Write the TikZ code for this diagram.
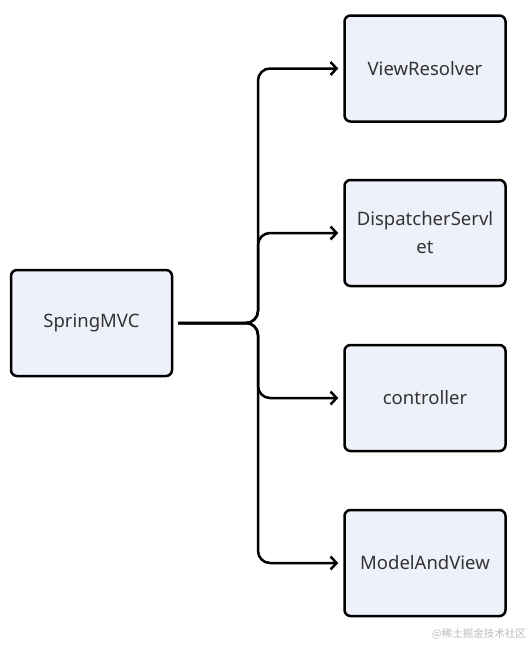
\documentclass[tikz,border=0pt]{standalone}
\usepackage{fontspec}
\setmainfont{Noto Sans}
\newfontfamily\cjk{Noto Sans CJK SC}
\usetikzlibrary{arrows.meta}
\definecolor{boxfill}{HTML}{EEF1FA}
\definecolor{txt}{HTML}{333333}
\definecolor{wm}{HTML}{BBBBBB}
\begin{document}
\begin{tikzpicture}[x=1pt,y=-1pt,
  box/.style={draw=black,line width=2.5pt,rounded corners=6pt,fill=boxfill,
    minimum width=161pt,minimum height=106pt,text width=155pt,align=center,
    font=\fontsize{18.5}{28}\selectfont,text=txt,inner sep=0pt},
  conn/.style={line width=2.5pt,rounded corners=12pt,
    -{Straight Barb[length=6pt,width=13pt,line width=2.5pt]},shorten >=5pt}]
\useasboundingbox (0,0) rectangle (532,646);
\node[box] (sm) at (91.5,323) {SpringMVC};
\node[box] (vr) at (425,68.5) {ViewResolver};
\node[box] (ds) at (425,233) {DispatcherServl\\et};
\node[box] (ct) at (425,398) {controller};
\node[box] (mv) at (425,563) {ModelAndView};
\coordinate (j) at (258,323);
\coordinate (s) at ([xshift=5pt]sm.east);
\foreach \t in {vr,ds,ct,mv}{
  \draw[conn] (s) -- (j) |- (\t.west);
}
\node[anchor=east,text=wm,font=\cjk\fontsize{10.5}{12}\selectfont,inner sep=0pt] (w) at (526,634) {@稀土掘金技术社区};
\end{tikzpicture}
\end{document}
